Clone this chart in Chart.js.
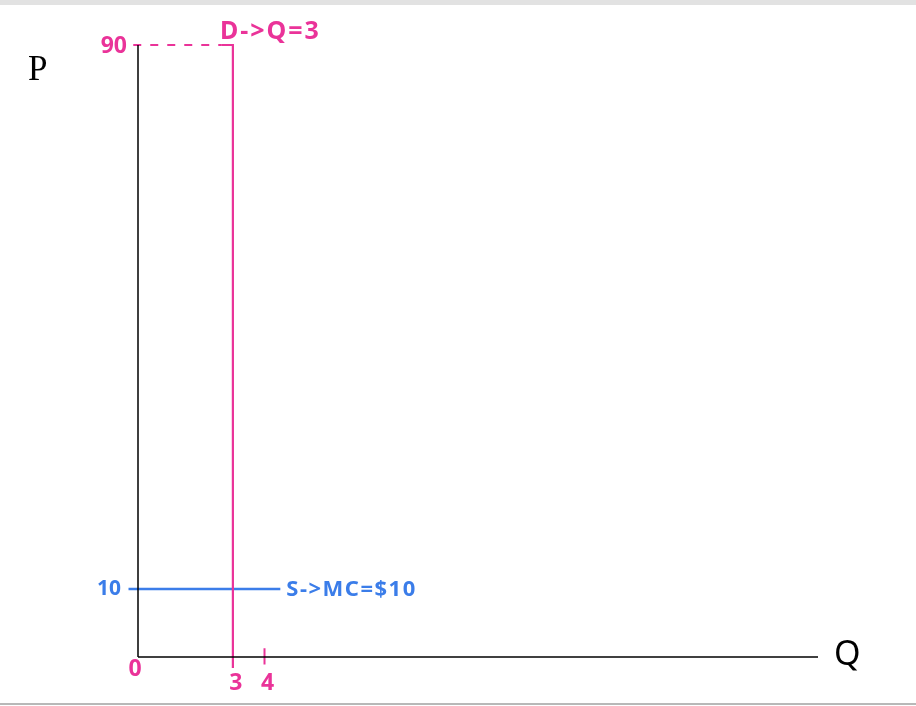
<!DOCTYPE html>
<html>
<head>
<meta charset="utf-8">
<script src="https://cdn.jsdelivr.net/npm/chart.js@4/dist/chart.umd.min.js"></script>
<style>
  html, body { margin: 0; padding: 0; background: #fff; }
  #wrap { position: relative; width: 916px; height: 706px; }
  #topbar { position: absolute; left: 0; top: 0; width: 916px; height: 5px; background: #e2e2e2; }
  #bottomline { position: absolute; left: 0; top: 703px; width: 916px; height: 2px; background: #b8b8b8; }
  canvas { position: absolute; left: 0; top: 0; }
</style>
</head>
<body>
<div id="wrap">
  <canvas id="chart" width="916" height="706"></canvas>
  <div id="topbar"></div>
  <div id="bottomline"></div>
</div>
<script>
// values
const demandQ = 3;       // D -> Q = 3
const maxPrice = 90;
const supplyP = 10;      // S -> MC = $10
const xTicks = [3, 4];
const yTicks = [90, 10];
const xMax = 21.5;

const pink = '#ea3399';
const blue = '#3b7de9';

// hand written labels, placed from the scales
const labelsPlugin = {
    id: 'sketchLabels',
    afterDatasetsDraw(chart) {
        const ctx = chart.ctx;
        const x = chart.scales.x;
        const y = chart.scales.y;
        const font = '"Noto Sans", sans-serif';
        const x0 = x.getPixelForValue(0);
        const y0 = y.getPixelForValue(0);
        ctx.save();
        ctx.textBaseline = 'middle';

        // axis names
        ctx.fillStyle = '#000';
        ctx.font = '35px "Liberation Serif", serif';
        ctx.textAlign = 'left';
        ctx.fillText('P', 28, 71);
        ctx.font = '34px ' + font;
        ctx.fillText('Q', x.getPixelForValue(xMax) + 16, y0 - 2);

        // pink labels
        ctx.fillStyle = pink;
        ctx.font = 'bold 23px ' + font;
        ctx.textAlign = 'right';
        ctx.fillText(String(yTicks[0]), x0 - 11, y.getPixelForValue(maxPrice) + 1);
        ctx.textAlign = 'center';
        ctx.fillText('0', x0 - 3, y0 + 12);
        xTicks.forEach(v => {
            ctx.fillText(String(v), x.getPixelForValue(v) + 3, y0 + 26);
        });
        ctx.font = 'bold 25px ' + font;
        ctx.letterSpacing = '2px';
        ctx.textAlign = 'left';
        ctx.fillText('D->Q=' + demandQ, x.getPixelForValue(demandQ) - 13, y.getPixelForValue(maxPrice) - 13);

        // blue labels
        ctx.fillStyle = blue;
        ctx.letterSpacing = '0px';
        ctx.font = 'bold 21px ' + font;
        ctx.textAlign = 'right';
        ctx.fillText(String(yTicks[1]), x0 - 17, y.getPixelForValue(supplyP));
        ctx.font = 'bold 22px ' + font;
        ctx.letterSpacing = '1.5px';
        ctx.textAlign = 'left';
        ctx.fillText('S->MC=$' + supplyP, x.getPixelForValue(4.5) + 6, y.getPixelForValue(supplyP) + 1);
        ctx.restore();
    }
};

const ctx = document.getElementById('chart').getContext('2d');
new Chart(ctx, {
    type: 'line',
    data: {
        datasets: [
            {   // P axis
                data: [{x: 0, y: maxPrice}, {x: 0, y: 0}],
                borderColor: '#000',
                borderWidth: 1.5
            },
            {   // Q axis
                data: [{x: 0, y: 0}, {x: xMax, y: 0}],
                borderColor: '#000',
                borderWidth: 1.5
            },
            {   // dashed guide at 90
                data: [{x: -0.15, y: maxPrice}, {x: 2.65, y: maxPrice}],
                borderColor: pink,
                borderWidth: 2,
                borderDash: [8, 9]
            },
            {   // demand
                data: [{x: 2.65, y: maxPrice}, {x: demandQ, y: maxPrice}, {x: demandQ, y: -1.6}],
                borderColor: pink,
                borderWidth: 2.2
            },
            {   // tick at 4
                data: [{x: 4, y: 1.3}, {x: 4, y: -1.1}],
                borderColor: pink,
                borderWidth: 2
            },
            {   // supply
                data: [{x: -0.3, y: supplyP}, {x: 4.5, y: supplyP}],
                borderColor: blue,
                borderWidth: 2.5
            }
        ]
    },
    options: {
        responsive: false,
        animation: false,
        layout: { padding: { left: 138, right: 98, top: 45, bottom: 49 } },
        elements: { point: { radius: 0 }, line: { tension: 0 } },
        datasets: { line: { clip: false } },
        plugins: { legend: { display: false }, tooltip: { enabled: false } },
        scales: {
            x: { type: 'linear', min: 0, max: xMax, display: false },
            y: { type: 'linear', min: 0, max: maxPrice, display: false }
        }
    },
    plugins: [labelsPlugin]
});
</script>
</body>
</html>
